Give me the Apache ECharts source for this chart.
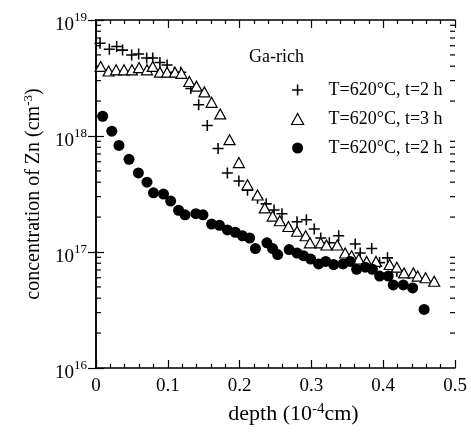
<!DOCTYPE html>
<html>
<head>
<meta charset="utf-8">
<script src="https://cdn.jsdelivr.net/npm/echarts@6/dist/echarts.min.js"></script>
<style>html,body{margin:0;padding:0;background:#fff;}#c{width:471px;height:433px;}</style>
</head>
<body>
<div id="c"></div>
<script>
// ---- data (depth in 1e-4 cm, concentration in cm^-3) ----
const depthPlus2h = [0.0056,0.0186,0.0288,0.037,0.0497,0.0594,0.0706,0.079,0.089,0.099,0.109,0.118,0.132,0.143,0.155,0.170,0.183,0.199,0.211,0.225,0.237,0.248,0.259,0.280,0.293,0.304,0.313,0.325,0.338,0.361,0.368,0.384,0.395,0.406,0.419];
const concPlus2h = [6.3e18,5.6e18,5.9e18,5.5e18,5.0e18,5.1e18,4.7e18,4.7e18,4.3e18,4.1e18,3.55e18,3.55e18,2.57e18,1.86e18,1.23e18,7.8e17,4.8e17,4.1e17,3.4e17,2.9e17,2.6e17,2.3e17,2.14e17,1.82e17,1.9e17,1.58e17,1.32e17,1.2e17,1.38e17,1.17e17,9.8e16,1.07e17,8.1e16,8.9e16,6.8e16];

const depthTri3h = [0.0065,0.0176,0.028,0.039,0.050,0.060,0.071,0.079,0.089,0.099,0.110,0.119,0.130,0.140,0.151,0.161,0.173,0.186,0.199,0.211,0.225,0.235,0.246,0.256,0.268,0.280,0.292,0.298,0.313,0.321,0.336,0.347,0.356,0.366,0.377,0.390,0.409,0.419,0.429,0.442,0.448,0.459,0.471];
const concTri3h = [3.98e18,3.63e18,3.72e18,3.72e18,3.72e18,3.89e18,3.72e18,3.98e18,3.55e18,3.55e18,3.55e18,3.47e18,2.95e18,2.69e18,2.4e18,1.95e18,1.55e18,9.3e17,5.9e17,3.8e17,3.1e17,2.4e17,2.04e17,1.86e17,1.66e17,1.51e17,1.38e17,1.2e17,1.2e17,1.15e17,1.15e17,9.8e16,9.3e16,8.7e16,8.3e16,8.3e16,7.8e16,7.4e16,6.6e16,6.6e16,6.2e16,6.0e16,5.6e16];

const depthDot2h = [0.0093,0.022,0.032,0.046,0.059,0.071,0.080,0.094,0.104,0.115,0.124,0.139,0.149,0.161,0.172,0.183,0.194,0.204,0.214,0.222,0.238,0.246,0.253,0.269,0.280,0.289,0.299,0.310,0.320,0.331,0.344,0.354,0.363,0.375,0.385,0.395,0.407,0.414,0.428,0.441,0.457];
const concDot2h = [1.48e18,1.10e18,8.3e17,6.3e17,4.8e17,4.0e17,3.24e17,3.16e17,2.75e17,2.29e17,2.09e17,2.14e17,2.09e17,1.74e17,1.70e17,1.55e17,1.48e17,1.38e17,1.32e17,1.07e17,1.20e17,1.07e17,9.5e16,1.05e17,9.8e16,9.3e16,8.7e16,7.9e16,8.3e16,7.8e16,7.9e16,8.3e16,7.1e16,7.4e16,7.1e16,6.2e16,6.2e16,5.2e16,5.2e16,4.9e16,3.2e16];

const seriesNames = ['T=620\u00B0C, t=2 h', 'T=620\u00B0C, t=3 h', 'T=620\u00B0C, t=2 h '];
const annotation = 'Ga-rich';
const xTickLabels = ['0', '0.1', '0.2', '0.3', '0.4', '0.5'];
const yMinorTickValues = [2e16,3e16,4e16,5e16,6e16,7e16,8e16,9e16,2e17,3e17,4e17,5e17,6e17,7e17,8e17,9e17,2e18,3e18,4e18,5e18,6e18,7e18,8e18,9e18];

const FONT = 'Liberation Serif';
const INK = '#000';
const zip = (xs, ys) => xs.map((x, i) => [x, ys[i]]);
const plusPath = 'path://M4.3,0H5.7V4.3H10V5.7H5.7V10H4.3V5.7H0V4.3H4.3Z';

const axisLineStyle = {color: INK, width: 1.5};
const chart = echarts.init(document.getElementById('c'), null, {renderer: 'canvas'});

chart.setOption({
  backgroundColor: '#fff',
  animation: false,
  grid: {left: 96, right: 16, top: 20, bottom: 65, containLabel: false},
  title: {
    text: annotation, left: 244, top: 43,
    textStyle: {fontFamily: FONT, fontSize: 18, fontWeight: 'normal', color: INK}
  },
  legend: {
    data: [
      {name: seriesNames[0], icon: plusPath},
      {name: seriesNames[1], icon: 'triangle', itemStyle: {color: '#fff', borderColor: INK, borderWidth: 1.2}},
      {name: seriesNames[2], icon: 'circle'}
    ],
    orient: 'vertical',
    left: 286, top: 76,
    itemWidth: 12, itemHeight: 11,
    itemGap: 11,
    textStyle: {fontFamily: FONT, fontSize: 18, color: INK, padding: [0, 0, 0, 20]},
    selectedMode: false
  },
  xAxis: [{
    type: 'value', min: 0, max: 0.5, interval: 0.1,
    axisLine: {show: true, lineStyle: axisLineStyle},
    axisTick: {show: true, inside: true, length: 8, lineStyle: {color: INK, width: 1.2}},
    minorTick: {show: true, splitNumber: 5, length: 4, lineStyle: {color: INK, width: 1.2}},
    splitLine: {show: false},
    axisLabel: {
      margin: 9, color: INK, fontFamily: FONT, fontSize: 19,
      formatter: v => xTickLabels[Math.round(v * 10)]
    },
    name: '{n|depth (10}{s|-4}{n|cm)}',
    nameLocation: 'middle', nameGap: 34,
    nameTextStyle: {
      padding: [0, 0, 0, 36],
      rich: {
        n: {fontFamily: FONT, fontSize: 22, color: INK},
        s: {fontFamily: FONT, fontSize: 15, color: INK, padding: [0, 0, 10, 0]}
      }
    }
  }, {
    type: 'value', min: 0, max: 0.5, interval: 0.1, position: 'top',
    axisLine: {show: true, lineStyle: axisLineStyle},
    axisTick: {show: true, inside: true, length: 8, lineStyle: {color: INK, width: 1.2}},
    minorTick: {show: true, splitNumber: 5, length: 4, lineStyle: {color: INK, width: 1.2}},
    splitLine: {show: false},
    axisLabel: {show: false}
  }],
  yAxis: [{
    type: 'log', logBase: 10, min: 1e16, max: 1e19,
    axisLine: {show: true, lineStyle: axisLineStyle},
    axisTick: {show: true, inside: true, length: 8, lineStyle: {color: INK, width: 1.2}},
    splitLine: {show: false},
    axisLabel: {
      margin: 9,
      formatter: v => '{b|10}{s|' + Math.round(Math.log10(v)) + '}',
      rich: {
        b: {fontFamily: FONT, fontSize: 19, color: INK, padding: [10, 0, 0, 0]},
        s: {fontFamily: FONT, fontSize: 13, color: INK, padding: [0, 0, 4, 0]}
      }
    },
    name: '{n|concentration of Zn (cm}{s|-3}{n|)}',
    nameLocation: 'middle', nameGap: 51, nameRotate: 90,
    nameTextStyle: {
      rich: {
        n: {fontFamily: FONT, fontSize: 20, color: INK},
        s: {fontFamily: FONT, fontSize: 13, color: INK, padding: [0, 0, 10, 0]}
      }
    }
  }, {
    type: 'log', logBase: 10, min: 1e16, max: 1e19, position: 'right',
    axisLine: {show: true, lineStyle: axisLineStyle},
    axisTick: {show: true, inside: true, length: 8, lineStyle: {color: INK, width: 1.2}},
    splitLine: {show: false},
    axisLabel: {show: false}
  }],
  series: [{
    name: seriesNames[0], type: 'scatter', data: zip(depthPlus2h, concPlus2h),
    symbol: plusPath, symbolSize: 11, symbolKeepAspect: true,
    itemStyle: {color: INK, opacity: 1}
  }, {
    name: seriesNames[1], type: 'scatter', data: zip(depthTri3h, concTri3h),
    symbol: 'triangle', symbolSize: [11, 10],
    itemStyle: {color: '#fff', borderColor: INK, borderWidth: 1.2, opacity: 1}
  }, {
    name: seriesNames[2], type: 'scatter', data: zip(depthDot2h, concDot2h),
    symbol: 'circle', symbolSize: 11,
    itemStyle: {color: INK, opacity: 1}
  }, {
    name: 'minorTicks', type: 'custom', silent: true,
    data: yMinorTickValues.map(v => [0, v]),
    renderItem: (params, api) => {
      const v = api.value(1);
      const l = api.coord([0, v]);
      const r = api.coord([0.5, v]);
      const st = {stroke: INK, lineWidth: 1.2};
      return {type: 'group', children: [
        {type: 'line', shape: {x1: l[0], y1: l[1], x2: l[0] + 5, y2: l[1]}, style: st},
        {type: 'line', shape: {x1: r[0] - 5, y1: r[1], x2: r[0], y2: r[1]}, style: st}
      ]};
    }
  }]
});
</script>
</body>
</html>
